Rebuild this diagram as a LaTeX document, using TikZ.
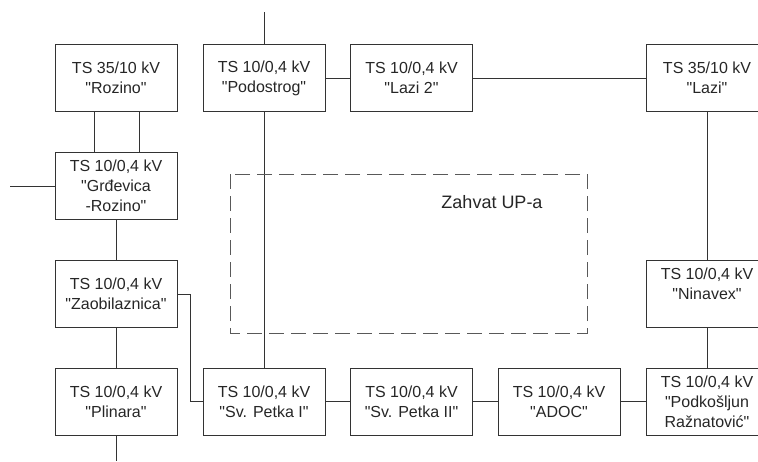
\documentclass[tikz,border=0pt]{standalone}
\usepackage{fontspec}
\setmainfont{Liberation Sans}
\usepackage{tikz}
\usetikzlibrary{calc}
\newcommand{\qt}[1]{\textquotedbl#1\textquotedbl}

\begin{document}
\begin{tikzpicture}[x=0.5pt, y=-0.5pt, line width=0.5pt, draw=black!80,
    ts/.style={draw=black!80, minimum width=61pt, minimum height=33.5pt, inner sep=1pt, align=center,
      text=black!85, font=\fontsize{8}{10}\selectfont}]
    \useasboundingbox (0,0) rectangle (758,461);
    \node[ts] (roz) at (116,78) {TS 35/10 kV\\\qt{Rozino}};
    \node[ts] (pod) at (264,78) {TS 10/0,4 kV\\\qt{Podostrog}};
    \node[ts] (laz2) at (411.5,78) {TS 10/0,4 kV\\\qt{Lazi 2}};
    \node[ts] (laz) at (707,78) {TS 35/10 kV\\\qt{Lazi}};
    \node[ts] (grd) at (116,186) {TS 10/0,4 kV\\\textquotedbl Grđevica\\-Rozino\textquotedbl};
    \node[ts] (zao) at (116,294) {TS 10/0,4 kV\\\qt{Zaobilaznica}};
    \node[ts] (nin) at (707,294) {TS 10/0,4 kV\\\qt{Ninavex}\\\mbox{}};
    \node[ts] (pli) at (116,401.5) {TS 10/0,4 kV\\\qt{Plinara}};
    \node[ts] (sp1) at (264,401.5) {TS 10/0,4 kV\\\qt{Sv. Petka I}};
    \node[ts] (sp2) at (411.5,401.5) {TS 10/0,4 kV\\\qt{Sv. Petka II}};
    \node[ts] (ado) at (559,401.5) {TS 10/0,4 kV\\\qt{ADOC}};
    \node[ts] (pdk) at (707,401.5) {TS 10/0,4 kV\\\textquotedbl Podkošljun\\Ražnatović\textquotedbl};
    \coordinate (podT) at (264,12); \coordinate (grdL) at (10,186); \coordinate (pliB) at (116,461);

    % feeders
    \draw ([xshift=-11pt]roz.south) -- ([xshift=-11pt]grd.north);
    \draw ([xshift=11.5pt]roz.south) -- ([xshift=11.5pt]grd.north);
    \draw (grdL) -- (grd.west); \draw (grd.south) -- (zao.north);
    \draw (zao.south) -- (pli.north); \draw (pli.south) -- (pliB);
    \draw (zao.east) -- ++(6.5pt,0) |- (sp1.west);
    \draw (podT) -- (pod.north); \draw (pod.south) -- (sp1.north);
    \draw (pod.east) -- (laz2.west); \draw (laz2.east) -- (laz.west);
    \draw (laz.south) -- (nin.north); \draw (nin.south) -- (pdk.north);
    \draw (sp1.east) -- (sp2.west); \draw (sp2.east) -- (ado.west); \draw (ado.east) -- (pdk.west);

    % zahvat
    \draw[black!65, dash pattern=on 7.5pt off 3.5pt] (230,174) rectangle (587,333);
    \node[text=black!85, font=\fontsize{9}{11}\selectfont] (zah) at (492,202) {Zahvat UP-a};
\end{tikzpicture}
\end{document}
